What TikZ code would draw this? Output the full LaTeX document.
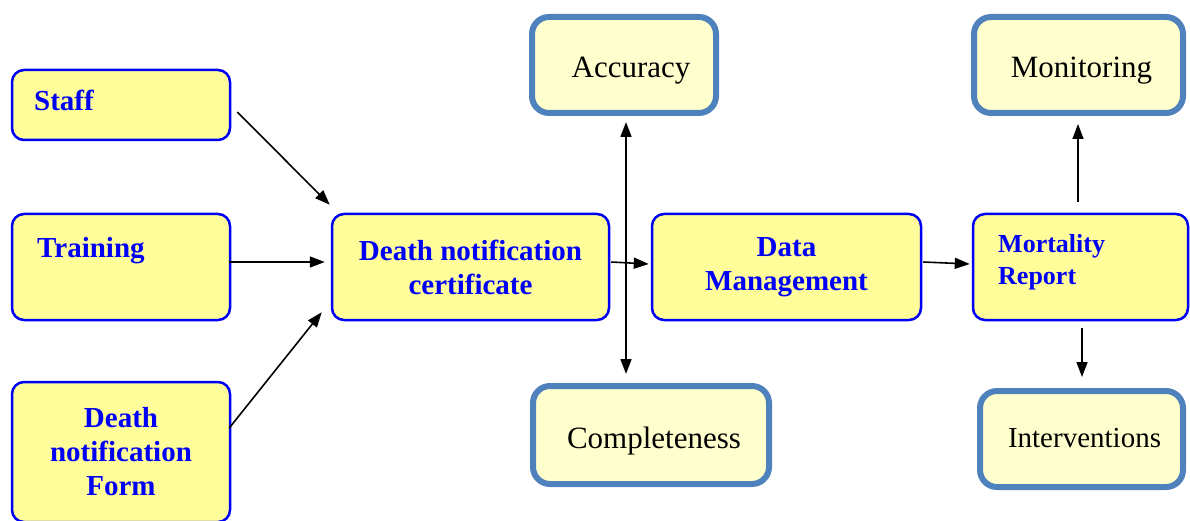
\documentclass[tikz,border=0pt]{standalone}
\usepackage{fontspec}
\setmainfont{Liberation Serif}
\usetikzlibrary{arrows.meta}
\definecolor{boxblue}{RGB}{0,0,245}
\definecolor{boxfill}{RGB}{255,253,153}
\definecolor{softfill}{RGB}{255,255,206}
\definecolor{steel}{RGB}{79,129,189}
\tikzset{
  inbox/.style={draw=boxblue, line width=2.5pt, fill=boxfill, rounded corners=12pt,
    text=boxblue, font=\fontsize{29}{34}\selectfont\bfseries, align=center, inner sep=0pt},
  outbox/.style={draw=steel, line width=6pt, fill=softfill, rounded corners=17pt,
    font=\fontsize{31}{36}\selectfont, inner sep=0pt, text height=26pt, text depth=0pt},
  lbl/.style={anchor=base west, inner sep=0pt, text=boxblue},
  arr/.style={line width=1.6pt, -{Triangle[length=15pt,width=11pt]}},
  dblarr/.style={line width=1.6pt, {Triangle[length=15pt,width=11pt]}-{Triangle[length=15pt,width=11pt]}}
}
\begin{document}
\begin{tikzpicture}[x=1pt,y=-1pt]
\clip (0,0) rectangle (1190,521);
\fill[white] (0,0) rectangle (1190,521);

% input boxes
\node[inbox, minimum width=218, minimum height=70] (staff) at (121,105) {};
\node[lbl, font=\fontsize{29}{34}\selectfont\bfseries] (staffT) at (34,111) {Staff};
\node[inbox, minimum width=218, minimum height=106] (train) at (121,267) {};
\node[lbl, font=\fontsize{29}{34}\selectfont\bfseries] (trainT) at (37,257) {Training};
\node[inbox, minimum width=218, minimum height=140] (form) at (121,452) {Death\\notification\\Form};

% processing chain
\node[inbox, minimum width=277, minimum height=106] (cert) at (470.5,267) {Death notification\\certificate};
\node[inbox, minimum width=269, minimum height=106] (dm) at (786.5,267) {Data\\Management};
\node[inbox, minimum width=215, minimum height=106] (mort) at (1080.5,267) {};
\node[lbl, anchor=north west, align=left, font=\fontsize{26}{32}\selectfont\bfseries] (mortT) at (998,234) {Mortality\\Report};

% quality attributes and outcomes
\node[outbox, minimum width=184, minimum height=96] (acc) at (624,65) {\hspace{14pt}Accuracy};
\node[outbox, minimum width=236, minimum height=98] (comp) at (651,435) {\hspace{6pt}Completeness};
\node[outbox, minimum width=209, minimum height=96] (mon) at (1078.5,65) {\hspace{6pt}Monitoring};
\node[outbox, minimum width=203, minimum height=96, font=\fontsize{29}{34}\selectfont,
  text height=16pt] (interv) at (1081.5,439) {\hspace{6pt}Interventions};

% connectors
\draw[arr] ([xshift=6pt,yshift=-7pt]staff.east) -- ([xshift=-1pt,yshift=8pt]cert.north west);
\draw[arr] ([xshift=-2pt,yshift=5pt]train.east) -- ([xshift=-6pt,yshift=5pt]cert.west);
\draw[arr] ([xshift=-2pt,yshift=24pt]form.east) -- ([xshift=-9pt,yshift=9pt]cert.south west);
\draw[arr] ([xshift=1pt,yshift=5pt]cert.east) -- ([xshift=-2pt,yshift=3pt]dm.west);
\draw[arr] ([xshift=1pt,yshift=5pt]dm.east) -- ([xshift=-2pt,yshift=3pt]mort.west);
\draw[dblarr] ([xshift=2pt,yshift=-6pt]acc.south) -- ([xshift=2pt,yshift=9pt]acc.south |- comp.north);
\draw[arr] ([xshift=-2.5pt,yshift=11pt]mort.north) -- ([xshift=-2.5pt,yshift=-8pt]mort.north |- mon.south);
\draw[arr] ([xshift=1.5pt,yshift=-7pt]mort.south) -- ([xshift=1.5pt,yshift=11pt]mort.south |- interv.north);
\end{tikzpicture}
\end{document}
